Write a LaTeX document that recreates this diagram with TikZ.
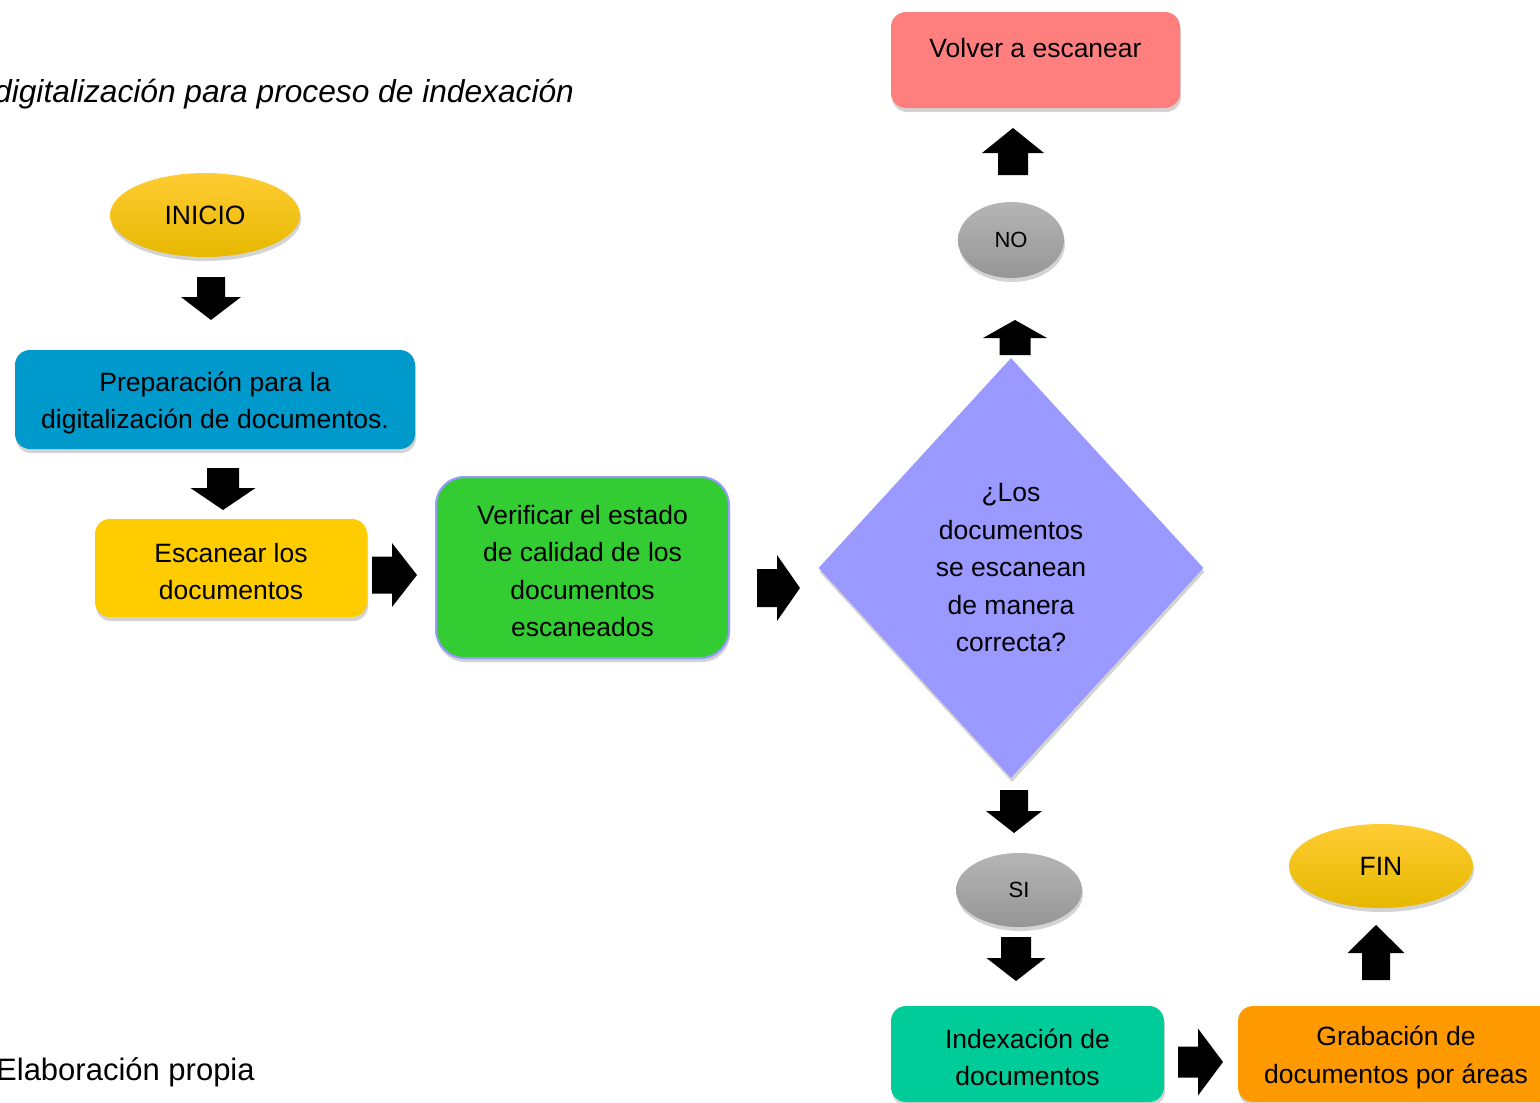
\documentclass[tikz,border=0pt]{standalone}
\usepackage{fontspec}
\setmainfont{Liberation Sans}
\usetikzlibrary{shapes.geometric,shadows}

\begin{document}
\begin{tikzpicture}[x=1pt,y=1pt,yscale=-1,xscale=1,
  shade/.style={drop shadow={shadow xshift=1pt,shadow yshift=-4pt,opacity=0.35}},
  box/.style={rounded corners=15pt,inner sep=0pt,align=center,shade,
    font=\fontsize{26.5}{37.5}\selectfont},
  oval/.style={ellipse,inner sep=0pt,shade,font=\fontsize{26.5}{32}\selectfont,
    top color={rgb,255:red,255;green,204;blue,51},middle color={rgb,255:red,255;green,200;blue,0},
    bottom color={rgb,255:red,230;green,184;blue,0}},
  grayoval/.style={ellipse,inner sep=0pt,shade,font=\fontsize{22}{26}\selectfont,
    top color={rgb,255:red,181;green,181;blue,181},bottom color={rgb,255:red,150;green,150;blue,150}},
  note/.style={inner sep=0pt,anchor=base west,font=\fontsize{31}{36}\selectfont},
  pics/darrow/.style args={#1/#2/#3/#4}{code={
    \fill (-#3/2,0) -- (#3/2,0) -- (#3/2,-#1+#2) -- (#4/2,-#1+#2) -- (0,-#1) -- (-#4/2,-#1+#2) -- (-#3/2,-#1+#2) -- cycle ;
  }},
  pics/rarrow/.style args={#1/#2/#3/#4}{code={
    \fill (0,-#3/2) -- (#1-#2,-#3/2) -- (#1-#2,-#4/2) -- (#1,0) -- (#1-#2,#4/2) -- (#1-#2,#3/2) -- (0,#3/2) -- cycle ;
  }}
]
\useasboundingbox (0,0) rectangle (1540,1103);

% Text Node
\draw (-6,102) node [note,font=\fontsize{31.7}{36}\selectfont\itshape] (title) {digitalización para proceso de indexación};
% Text Node
\draw (-4,1080) node [note] (source) {Elaboración propia};

%Shape: Ellipse
\draw (205,215) node [oval,minimum width=190pt,minimum height=84pt] (inicio) {INICIO};
%Shape: Rectangle
\draw (215,399.5) node [box,fill={rgb,255:red,0;green,153;blue,204},minimum width=400pt,minimum height=99pt] (prep) {\strut Preparación para la\\digitalización de documentos.};
%Shape: Rectangle
\draw (231,568) node [box,fill={rgb,255:red,255;green,204;blue,0},minimum width=272pt,minimum height=98pt] (scan) {\strut Escanear los\\documentos};
%Shape: Rectangle
\draw (582.5,567.5) node [box,rounded corners=28pt,fill={rgb,255:red,51;green,204;blue,51},draw={rgb,255:red,153;green,153;blue,255},line width=2pt,minimum width=293pt,minimum height=181pt] (check) {\strut Verificar el estado\\de calidad de los\\documentos\\escaneados};
%Shape: Diamond
\draw (1011,568) node [diamond,inner sep=0pt,shade,fill={rgb,255:red,153;green,153;blue,255},minimum width=385pt,minimum height=420pt] (ask) {};
% Text Node
\draw (ask.center) node [align=center,inner sep=0pt,font=\fontsize{26.5}{37.5}\selectfont] (asktext) {¿Los\\documentos\\se escanean\\de manera\\correcta?};
%Shape: Ellipse
\draw (1011,240) node [grayoval,minimum width=106pt,minimum height=76pt] (no) {NO};
%Shape: Rectangle
\draw (1035.5,60) node [box,fill={rgb,255:red,255;green,127;blue,127},minimum width=289pt,minimum height=96pt,text height=19pt,text depth=24pt] (again) {Volver a escanear};
%Shape: Ellipse
\draw (1019,890) node [grayoval,minimum width=126pt,minimum height=74pt] (si) {SI};
%Shape: Rectangle
\draw (1027.5,1054) node [box,fill={rgb,255:red,0;green,204;blue,153},minimum width=273pt,minimum height=96pt] (index) {\strut Indexación de\\documentos};
%Shape: Rectangle
\draw (1396,1054) node [box,fill={rgb,255:red,255;green,153;blue,0},minimum width=316pt,minimum height=96pt] (rec) {\strut Grabación de\\documentos por áreas};
%Shape: Ellipse
\draw (1381,866) node [oval,minimum width=184pt,minimum height=84pt] (fin) {FIN};

%Block arrows
\pic (a1) at (211,277) {darrow=43/23/28/60};
\pic (a2) at (223,468) {darrow=42/22/32/65};
\pic (a3) at (372,575) {rarrow=45/25/37/64};
\pic (a4) at (757,588) {rarrow=43/23/38/66};
\pic[yscale=-1] (a5) at (1015,355) {darrow=35/18/31/64};
\pic[yscale=-1] (a6) at (1013,175) {darrow=47/25/30/62};
\pic (a7) at (1014,790) {darrow=43/22/28/56};
\pic (a8) at (1016,937) {darrow=44/23/30/59};
\pic (a9) at (1178,1062) {rarrow=45/25/31/67};
\pic[yscale=-1] (a10) at (1376,980) {darrow=55/28/28/57};

\end{tikzpicture}
\end{document}
